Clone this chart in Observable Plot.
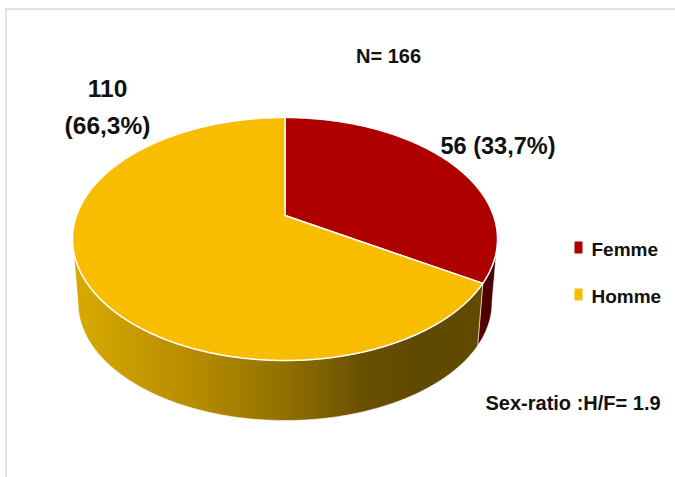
<!DOCTYPE html>
<html><head><meta charset="utf-8">
<script src="https://cdn.jsdelivr.net/npm/d3@7"></script>
<script src="https://cdn.jsdelivr.net/npm/@observablehq/plot@0.6"></script>
<style>
html,body{margin:0;padding:0;background:#fff;overflow:hidden;width:675px;height:477px;}
#wrap{position:relative;width:675px;height:477px;overflow:hidden;}
#ftop{position:absolute;left:5px;top:8px;width:700px;height:2px;background:#E2E2E2;}
#fleft{position:absolute;left:5px;top:8px;width:2px;height:500px;background:#E2E2E2;}
#chart{position:absolute;left:0;top:0;width:675px;height:477px;}
#chart svg{display:block;}
</style></head><body>
<div id="wrap"><div id="ftop"></div><div id="fleft"></div><div id="chart"></div></div>
<script>
// ---- data ----
const categories = ["Femme", "Homme"];
const counts = [56, 110];
const topColors = ["#AF0000", "#F9BD00"];
const sideColors = ["url(#femmeSide)", "url(#hommeSide)"];
const sexRatioLabel = "Sex-ratio :H/F= 1.9";

// ---- derived ----
const total = d3.sum(counts);
const pct = counts.map(c => (c / total * 100).toFixed(1).replace(".", ","));
const arcs = d3.pie().sort(null).value(d => d)(counts);

// perspective / 3D geometry (unit space)
const persp = -0.193, kk = Math.sqrt(1 - persp * persp);
const bot = {sx: 0.974, sy: 0.971, oy: 0.523};
function proj(phi, r) {
  const u = r * Math.sin(phi), v = -r * Math.cos(phi), w = 1 + persp * v;
  return [u * kk / w, (v + persp) / w];
}
const STEP = Math.PI / 360;
function steps(a, b) {
  const n = Math.max(2, Math.ceil((b - a) / STEP));
  return d3.range(n + 1).map(i => a + (b - a) * i / n);
}
function screenAngle(phi) {
  if (phi >= 2 * Math.PI - 1e-9) return 2 * Math.PI;
  const [X, Y] = proj(phi, 1);
  let s = Math.atan2(X, -Y);
  if (s < 0) s += 2 * Math.PI;
  return s;
}
const topPolys = arcs.map(a => {
  const c = proj(0, 0);
  const pts = [c, ...steps(a.startAngle, a.endAngle).map(p => proj(p, 1)), c];
  return pts.map(([x, y]) => ({x, y}));
});
const sidePolys = arcs.map(a => {
  const lo = Math.max(screenAngle(a.startAngle), Math.PI / 2);
  const hi = Math.min(screenAngle(a.endAngle), 3 * Math.PI / 2);
  if (lo >= hi) return null;
  const rs = steps(lo, hi);
  const topArc = rs.map(s => ({x: Math.sin(s), y: -Math.cos(s)}));
  const botArc = rs.slice().reverse().map(s => ({x: bot.sx * Math.sin(s), y: bot.oy - bot.sy * Math.cos(s)}));
  return [...topArc, ...botArc, topArc[0]];
});

const FONT = "'Liberation Sans', Arial, sans-serif";
const rectSymbol = {draw(ctx) { ctx.rect(-4, -6, 8, 12); }};

const marks = [];
sidePolys.forEach((p, i) => p && marks.push(Plot.line(p, {x: "x", y: "y", fill: sideColors[i], stroke: "#fff", strokeWidth: 0.8, strokeOpacity: 0.7})));
topPolys.forEach((p, i) => marks.push(Plot.line(p, {x: "x", y: "y", fill: topColors[i], stroke: "#fff", strokeWidth: 1.5})));

// labels
marks.push(Plot.text([`N= ${total}`], {frameAnchor: "top-left", dx: 388, dy: 62, textAnchor: "middle", lineAnchor: "bottom", fontSize: 20, fontWeight: "bold", fill: "#111"}));
marks.push(Plot.text([`${counts[0]} (${pct[0]}%)`], {frameAnchor: "top-left", dx: 440, dy: 153, textAnchor: "start", lineAnchor: "bottom", fontSize: 23.5, fontWeight: "bold", fill: "#111"}));
marks.push(Plot.text([`${counts[1]}\n(${pct[1]}%)`], {frameAnchor: "top-left", dx: 107, dy: 133, textAnchor: "middle", lineAnchor: "bottom", lineHeight: 1.5, fontSize: 24.5, fontWeight: "bold", fill: "#111"}));
// legend
categories.forEach((c, i) => {
  marks.push(Plot.dot([c], {frameAnchor: "top-left", dx: 578, dy: 247 + i * 47, symbol: rectSymbol, fill: topColors[i], stroke: "none"}));
  marks.push(Plot.text([c], {frameAnchor: "top-left", dx: 591, dy: 255 + i * 47, textAnchor: "start", lineAnchor: "bottom", fontSize: 19, fontWeight: "bold", fill: "#111"}));
});
marks.push(Plot.text([sexRatioLabel], {frameAnchor: "top-left", dx: 485, dy: 409, textAnchor: "start", lineAnchor: "bottom", fontSize: 20, fontWeight: "bold", fill: "#111"}));

const chart = Plot.plot({
  width: 675, height: 477,
  margin: 0,
  style: {fontFamily: FONT, background: "transparent", overflow: "hidden"},
  x: {domain: [-1, 1], range: [72, 497], axis: null},
  y: {domain: [-1, 1], range: [117, 360], axis: null},
  marks
});

// gradients for the 3D side
const defs = d3.select(chart).insert("defs", ":first-child");
const g1 = defs.append("linearGradient").attr("id", "hommeSide").attr("x1", 0).attr("x2", 1).attr("y1", 0).attr("y2", 0);
[[0, "#D9AA00"], [0.31, "#B48A00"], [0.52, "#917000"], [0.7, "#6A5100"], [0.85, "#5F4900"], [1, "#624B00"]]
  .forEach(([o, c]) => g1.append("stop").attr("offset", o).attr("stop-color", c));
const g2 = defs.append("linearGradient").attr("id", "femmeSide").attr("x1", 0).attr("x2", 1).attr("y1", 0).attr("y2", 0);
[[0, "#5A0000"], [1, "#3E0000"]].forEach(([o, c]) => g2.append("stop").attr("offset", o).attr("stop-color", c));

document.getElementById("chart").appendChild(chart);
</script>
</body></html>
